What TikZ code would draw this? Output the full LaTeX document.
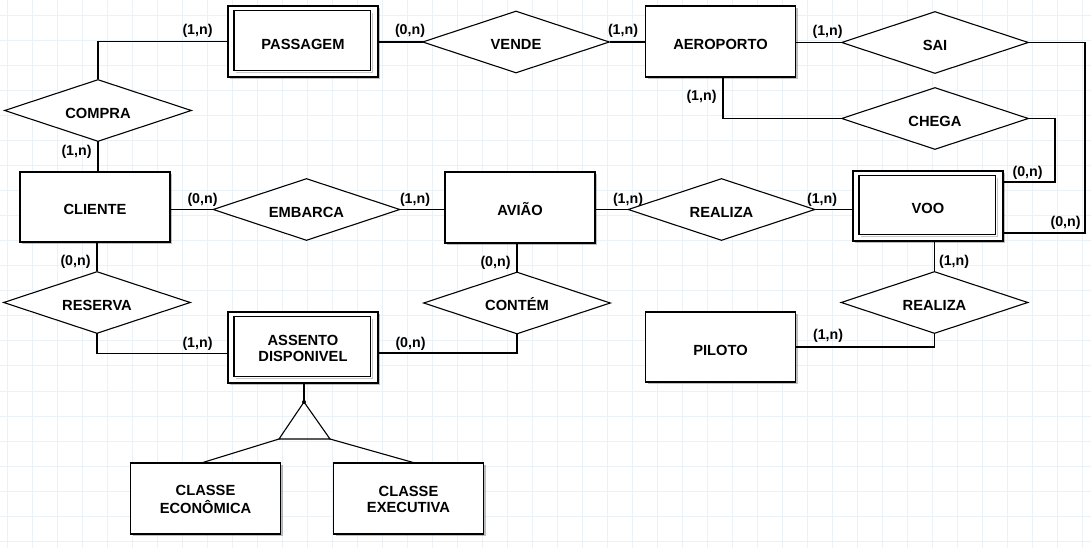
\documentclass[tikz,border=0pt]{standalone}
\usepackage{fontspec}
\setmainfont{Liberation Sans}
\usetikzlibrary{shapes.geometric,shadows,calc}
\definecolor{gridc}{RGB}{234,241,247}
\newcommand\weakinner[1]{%
  \draw[innershadow] ($(#1.north east)+(-6,7.5)$) -- ($(#1.south east)+(-6,-5)$) -- ($(#1.south west)+(8.5,-5)$);
  \draw[conn] ($(#1.north west)+(6.5,5.5)$) rectangle ($(#1.south east)+(-8,-7)$);
}
\newcommand\twolines[2]{\raisebox{-2.5bp}[\height][\depth]{\begin{tabular}{@{}c@{}}#1\\#2\end{tabular}}}
\begin{document}
\begin{tikzpicture}[x=1bp,y=-1bp,
  font=\fontsize{14.2bp}{16.6bp}\selectfont\bfseries,
  namefont/.style={font=\fontsize{14.7bp}{16.6bp}\selectfont\bfseries},
  conn/.style={line width=1.1bp, line cap=rect},
  innershadow/.style={line width=1.5bp, black, opacity=0.22},
  entbase/.style={draw, rectangle, fill=white, line width=1.1bp, minimum width=150bp, minimum height=71bp, inner sep=0pt, namefont,
    drop shadow={shadow xshift=2bp, shadow yshift=-2bp, opacity=0.25, fill=black}},
  ent/.style={entbase, text height=16bp, text depth=0bp},
  entml/.style={entbase},
  rel/.style={draw, diamond, fill=white, line width=1.1bp, minimum width=187bp, minimum height=62bp, inner sep=0pt, aspect=3, namefont,
    text height=16bp, text depth=0bp},
  card/.style={inner sep=0pt}]
\useasboundingbox (0,0) rectangle (1091,548);
\fill[white] (0,0) rectangle (1091,548);
\foreach \gx in {7,32,...,1082} \draw[gridc, line width=1bp] (\gx,0) -- (\gx,548);
\foreach \gy in {16,41,...,541} \draw[gridc, line width=1bp] (0,\gy) -- (1091,\gy);

% entities
\node[ent] (passagem) at (303,41.5) {PASSAGEM};
\node[ent] (aeroporto) at (720.5,41.5) {AEROPORTO};
\node[ent, minimum height=70bp] (cliente) at (95,207) {CLIENTE};
\node[ent] (aviao) at (520,207.5) {AVIÃO};
\node[ent, minimum height=70bp] (voo) at (928,206) {VOO};
\node[entml] (assento) at (303,347.5) {\twolines{ASSENTO}{DISPONIVEL}};
\node[ent, minimum height=70bp] (piloto) at (720.5,347) {PILOTO};
\node[entml] (econ) at (205.5,498.5) {\twolines{CLASSE}{ECONÔMICA}};
\node[entml] (exec) at (408.5,498.5) {\twolines{CLASSE}{EXECUTIVA}};
\weakinner{passagem}
\weakinner{voo}
\weakinner{assento}

% relationships
\node[rel] (compra) at (98,110.5) {COMPRA};
\node[rel] (vende) at (516,42) {VENDE};
\node[rel] (sai) at (935,42.5) {SAI};
\node[rel] (chega) at (935,118.5) {CHEGA};
\node[rel] (embarca) at (306.5,209.5) {EMBARCA};
\node[rel] (realiza) at (721.5,209.5) {REALIZA};
\node[rel] (reserva) at (97,302.5) {RESERVA};
\node[rel] (contem) at (517,303) {CONTÉM};
\node[rel] (realizab) at (934.5,302.5) {REALIZA};

% connectors
\draw[conn] (passagem.west) -| (compra.north);
\draw[conn] (compra.south) -- (compra.south |- cliente.north);
\draw[conn] (vende.west -| passagem.east) -- (vende.west);
\draw[conn] (vende.east) -- (vende.east -| aeroporto.west);
\draw[conn] (sai.west -| aeroporto.east) -- (sai.west);
\coordinate (saicorner) at (1085,233);
\draw[conn] (sai.east) -| (saicorner) -- (saicorner -| voo.east);
\coordinate (chegacorner) at (1055,182);
\draw[conn] (chega.east) -| (chegacorner) -- (chegacorner -| voo.east);
\draw[conn] ($(aeroporto.south)+(2.5,0)$) |- (chega.west);
\draw[conn] (embarca.west -| cliente.east) -- (embarca.west);
\draw[conn] (embarca.east) -- (embarca.east -| aviao.west);
\draw[conn] (realiza.west -| aviao.east) -- (realiza.west);
\draw[conn] (realiza.east) -- (realiza.east -| voo.west);
\draw[conn] (reserva.north |- cliente.south) -- (reserva.north);
\draw[conn] (reserva.south) |- ($(assento.west)+(0,6)$);
\draw[conn] (contem.south) |- ($(assento.east)+(0,5.5)$);
\draw[conn] (contem.north |- aviao.south) -- (contem.north);
\draw[conn] (realizab.north |- voo.south) -- (realizab.north);
\draw[conn] (realizab.south) |- (piloto.east);

% specialization
\coordinate (apex) at (304,402);
\coordinate (tl) at (279,439);
\coordinate (tr) at (330,439);
\draw[conn] (assento.south -| apex) -- (apex);
\draw[line width=1.1bp, line join=miter] (apex) -- (tl) -- (tr) -- cycle;
\fill (apex) circle (2);
\draw[conn] (tl) -- ($(econ.north)+(-2.5,0)$);
\draw[conn] (tr) -- ($(exec.north)+(4.5,0)$);

% cardinalities
\node[card] (k1) at (197.5,31) {(1,n)};
\node[card] (k2) at (410,31) {(0,n)};
\node[card] (k3) at (623,31) {(1,n)};
\node[card] (k4) at (827.5,31.5) {(1,n)};
\node[card] (k5) at (701.5,96.5) {(1,n)};
\node[card] (k6) at (76.5,152) {(1,n)};
\node[card] (k7) at (1027.5,172.5) {(0,n)};
\node[card] (k8) at (1065.5,223) {(0,n)};
\node[card] (k9) at (202.5,199.5) {(0,n)};
\node[card] (k10) at (415,199.5) {(1,n)};
\node[card] (k11) at (628,199.5) {(1,n)};
\node[card] (k12) at (822,199.5) {(1,n)};
\node[card] (k13) at (75.5,262) {(0,n)};
\node[card] (k14) at (197.5,344) {(1,n)};
\node[card] (k15) at (410.5,343.5) {(0,n)};
\node[card] (k16) at (495.5,262.5) {(0,n)};
\node[card] (k17) at (954,261.5) {(1,n)};
\node[card] (k18) at (828,335.5) {(1,n)};
\end{tikzpicture}
\end{document}
